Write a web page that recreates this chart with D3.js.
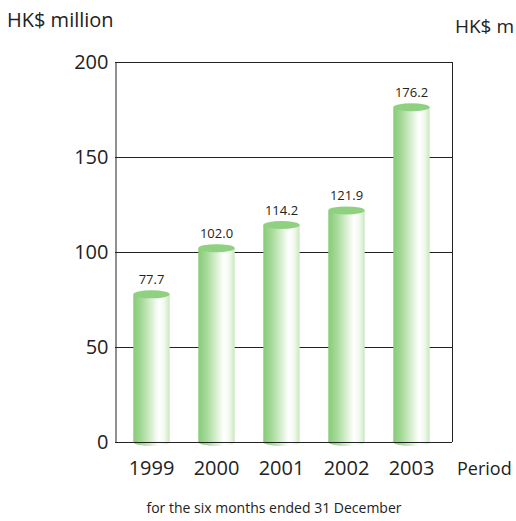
<!DOCTYPE html>
<html><head><meta charset="utf-8">
<script src="https://cdn.jsdelivr.net/npm/d3@7/dist/d3.min.js"></script>
<style>body{margin:0;background:#fff}svg{display:block}text{font-family:"Open Sans","Noto Sans",sans-serif;fill:#222}</style>
</head><body>
<script>
const years = ["1999","2000","2001","2002","2003"];
const values = [77.7, 102.0, 114.2, 121.9, 176.2];
const yTicks = [0, 50, 100, 150, 200];

const W = 516, H = 521;
const svg = d3.select("body").append("svg").attr("width", W).attr("height", H);
const pL = 115, pR = 452, pT = 62, pB = 442;
const x = d3.scaleBand().domain(years).range([119, 444]).paddingInner(0.44).paddingOuter(0.22);
const y = d3.scaleLinear().domain([0, 200]).range([pB, pT]);

const defs = svg.append("defs");
const g = defs.append("linearGradient").attr("id", "cyl").attr("x1", "0").attr("x2", "1").attr("y1", "0").attr("y2", "0");
[[0,"#86cb77"],[0.25,"#a9db9c"],[0.5,"#d9efd2"],[0.7,"#ffffff"],[0.85,"#f2f9ef"],[1,"#c9e8bf"]]
  .forEach(([o,c]) => g.append("stop").attr("offset", o).attr("stop-color", c));

const lineCol = "#222";
// gridlines and box
svg.append("g").selectAll("line").data(yTicks.filter(d => d > 0)).join("line")
  .attr("x1", pL).attr("x2", pR).attr("y1", d => y(d) + 0.5).attr("y2", d => y(d) + 0.5)
  .attr("stroke", lineCol).attr("stroke-width", 1);
svg.append("line").attr("x1", pR + 0.5).attr("x2", pR + 0.5).attr("y1", y(200)).attr("y2", y(0)).attr("stroke", lineCol).attr("stroke-width", 1);

// y axis
const yAxis = d3.axisLeft(y).tickValues(yTicks).tickSize(0).tickPadding(7);
const ya = svg.append("g").attr("transform", `translate(${pL + 0.5},0)`).call(yAxis);
ya.select(".domain").attr("stroke", lineCol).attr("stroke-width", 1);
ya.selectAll("text").style("font-size", "20px").attr("fill", "#222").style("font-family", '"Open Sans","Noto Sans",sans-serif');

// cylinders
const ry = 4;
const bars = svg.append("g").selectAll("g").data(years.map((yr,i) => ({yr, v: values[i]}))).join("g");
bars.append("path")
  .attr("d", d => {
    const x0 = x(d.yr), w = x.bandwidth(), rx = w/2, yt = y(d.v), yb = y(0);
    return `M${x0},${yt} L${x0},${yb} A${rx},${ry} 0 0 0 ${x0+w},${yb} L${x0+w},${yt} Z`;
  })
  .attr("fill", "url(#cyl)");
bars.append("ellipse")
  .attr("cx", d => x(d.yr) + x.bandwidth()/2).attr("cy", d => y(d.v))
  .attr("rx", x.bandwidth()/2).attr("ry", ry).attr("fill", "#8fd181");
bars.append("text")
  .attr("x", d => x(d.yr) + x.bandwidth()/2).attr("y", d => y(d.v) - ry - 6)
  .attr("text-anchor", "middle").style("font-size", "13px").text(d => d.v.toFixed(1));

// baseline
svg.append("line").attr("x1", pL).attr("x2", pR).attr("y1", y(0) + 0.5).attr("y2", y(0) + 0.5).attr("stroke", lineCol).attr("stroke-width", 1);
// bottom ellipse half over baseline
bars.append("path")
  .attr("d", d => {
    const x0 = x(d.yr), w = x.bandwidth(), rx = w/2, yb = y(0) - 0.5;
    return `M${x0},${yb} A${rx},${ry} 0 0 0 ${x0+w},${yb} Z`;
  })
  .attr("fill", "url(#cyl)");

// x labels
const xAxis = d3.axisBottom(x).tickSize(0).tickPadding(0);
const xa = svg.append("g").attr("transform", `translate(0,${pB})`).call(xAxis);
xa.select(".domain").remove();
xa.selectAll("text").attr("dy", null).attr("y", 33).style("font-size", "20px").attr("fill", "#222").style("font-family", '"Open Sans","Noto Sans",sans-serif');

svg.append("text").attr("x", 7).attr("y", 27).style("font-size", "20px").text("HK$ million");
svg.append("text").attr("x", 514).attr("y", 33).attr("text-anchor", "end").style("font-size", "19px").text("HK$ m");
svg.append("text").attr("x", 457).attr("y", 475).style("font-size", "18px").text("Period");
svg.append("text").attr("x", 274).attr("y", 513).attr("text-anchor", "middle").style("font-size", "14px").text("for the six months ended 31 December");
</script>
</body></html>
